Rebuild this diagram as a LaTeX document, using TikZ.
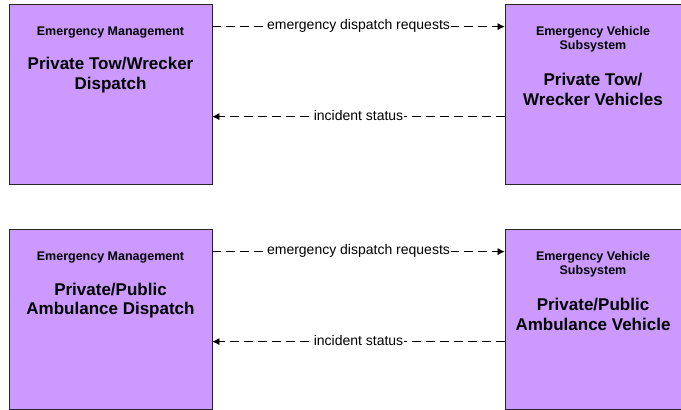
\documentclass[tikz,border=0pt]{standalone}
\usepackage{fontspec}
\setmainfont{Liberation Sans}
\usetikzlibrary{arrows.meta,positioning}
\definecolor{boxfill}{RGB}{204,153,255}
\tikzset{
  sysbox/.style={draw=black!85,line width=0.8pt,fill=boxfill,minimum height=180pt,inner sep=0pt},
  cat/.style={font=\bfseries\fontsize{12.5}{14}\selectfont,align=center,inner sep=0pt},
  title/.style={font=\bfseries\fontsize{17}{20}\selectfont,align=center,inner sep=0pt},
  flow/.style={line width=0.7pt,dash pattern=on 9pt off 5pt,-{Latex[length=7pt,width=7pt]}},
  flowlabel/.style={fill=white,inner sep=1pt,yshift=1pt,font=\fontsize{14}{16}\selectfont},
}
\begin{document}
\begin{tikzpicture}[x=1pt,y=-1pt]
  \useasboundingbox (0,0) rectangle (681,410);
  % upper pair
  \node[sysbox,minimum width=203pt] (tow) at (110.5,94) {};
  \node[sysbox,minimum width=176pt] (towv) at (593,94) {};
  \node[cat] (towcat) at (110.5,32.75) {Emergency Management};
  \node[title] (towname) at (110.5,75.6) {Private Tow/Wrecker\\Dispatch};
  \node[cat] (towvcat) at (593,39.75) {Emergency Vehicle\\Subsystem};
  \node[title] (towvname) at (593,89.3) {Private Tow/\\Wrecker Vehicles};
  % lower pair
  \node[sysbox,minimum width=203pt] (amb) at (110.5,319) {};
  \node[sysbox,minimum width=176pt] (ambv) at (593,319) {};
  \node[cat] (ambcat) at (110.5,257.75) {Emergency Management};
  \node[title] (ambname) at (110.5,300.6) {Private/Public\\Ambulance Dispatch};
  \node[cat] (ambvcat) at (593,264.75) {Emergency Vehicle\\Subsystem};
  \node[title] (ambvname) at (593,314.3) {Private/Public\\Ambulance Vehicle};
  % flows
  \foreach \a/\b in {tow/towv,amb/ambv}{
    \draw[flow] ([yshift=-23pt]\a.north east) -- node[flowlabel] {emergency dispatch requests} ([yshift=-23pt]\b.north west);
    \draw[flow] ([yshift=-113pt]\b.north west) -- node[flowlabel] {incident status} ([yshift=-113pt]\a.north east);
  }
\end{tikzpicture}
\end{document}
